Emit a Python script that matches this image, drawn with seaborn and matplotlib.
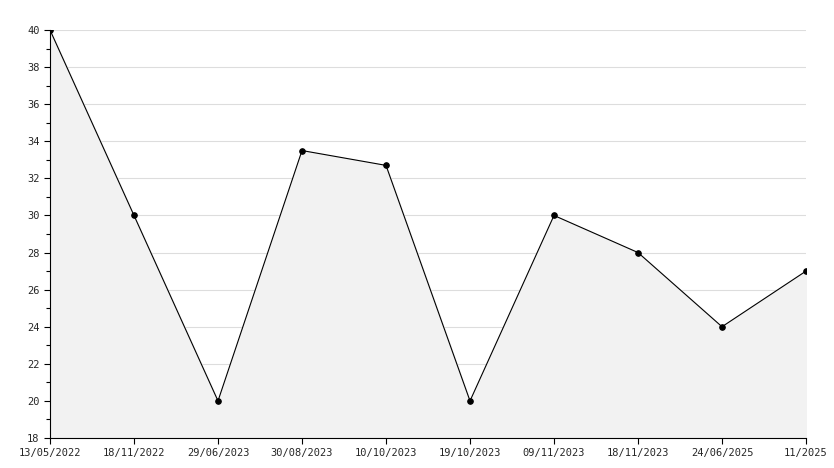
import matplotlib
matplotlib.use("Agg")
import matplotlib.pyplot as plt
import seaborn as sns
import pandas as pd
from matplotlib.ticker import MultipleLocator

dates = ["13/05/2022", "18/11/2022", "29/06/2023", "30/08/2023", "10/10/2023",
         "19/10/2023", "09/11/2023", "18/11/2023", "24/06/2025", "11/2025"]
values = [40, 30, 20, 33.5, 32.7, 20, 30, 28, 24, 27]

df = pd.DataFrame({"pos": range(len(dates)), "value": values})

sns.set_style("white")
plt.rcParams['font.family'] = ['DejaVu Sans Mono']

fig = plt.figure(figsize=(8.34, 4.68), dpi=100)
ax = fig.add_axes([50 / 834, 30 / 468, 756 / 834, 408 / 468])

ax.fill_between(df["pos"], df["value"], 18, color="#f2f2f2", zorder=1)
sns.lineplot(data=df, x="pos", y="value", color="black", linewidth=0.8,
             marker="o", markersize=4, markeredgecolor="black", ax=ax, zorder=3)

ax.set_xlim(0, len(dates) - 1)
ax.set_ylim(18, 40)
ax.set_xticks(df["pos"])
ax.set_xticklabels(dates)
ax.yaxis.set_major_locator(MultipleLocator(2))
ax.yaxis.set_minor_locator(MultipleLocator(1))
ax.grid(axis="y", which="major", color="#dddddd", linewidth=0.8, zorder=0)
ax.set_axisbelow(True)
for s in ["top", "right"]:
    ax.spines[s].set_visible(False)
for s in ["left", "bottom"]:
    ax.spines[s].set_color("black")
    ax.spines[s].set_linewidth(0.8)
ax.tick_params(axis="both", which="major", direction="out", length=4, width=0.8,
               labelsize=7.5, color="black", bottom=True, left=True)
ax.tick_params(axis="y", which="minor", direction="out", length=3, width=0.8,
               color="black", left=True)
ax.set_xlabel("")
ax.set_ylabel("")

fig.savefig("out.png", dpi=100)
